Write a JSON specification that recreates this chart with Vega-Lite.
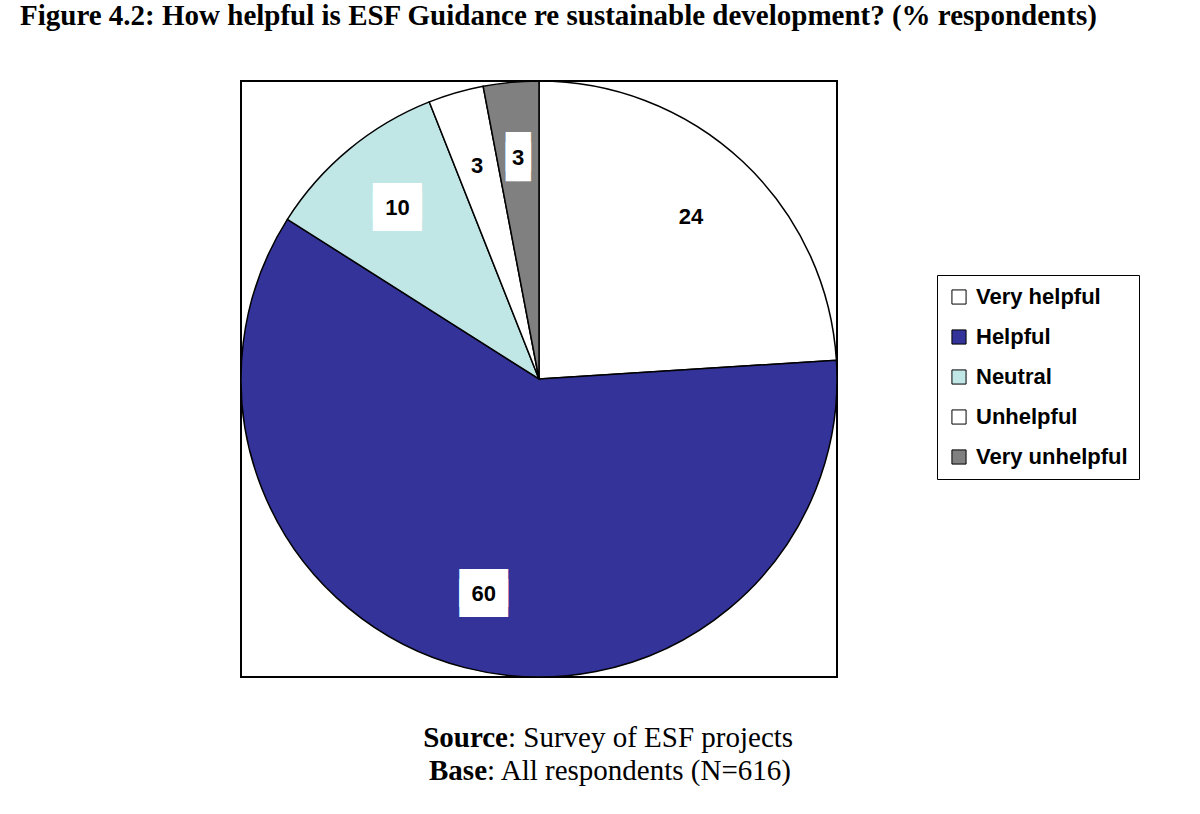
{
  "$schema": "https://vega.github.io/schema/vega-lite/v6.json",
  "padding": {"left": 20, "top": 2, "right": 0, "bottom": 0},
  "background": "white",
  "title": {
    "text": "Figure 4.2: How helpful is ESF Guidance re sustainable development? (% respondents)",
    "anchor": "start",
    "frame": "group",
    "dx": -221,
    "font": "Liberation Serif",
    "fontSize": 29,
    "fontWeight": "bold",
    "color": "black",
    "offset": 47
  },
  "vconcat": [
    {
      "title": {"text": "Base", "orient": "bottom", "anchor": "start", "align": "right", "frame": "group", "dx": 246, "offset": -29, "font": "Liberation Serif", "fontSize": 29, "fontWeight": "bold", "color": "black"},
      "vconcat": [
        {
          "title": {"text": ": All respondents (N=616)", "orient": "bottom", "anchor": "start", "align": "left", "frame": "group", "dx": 246, "offset": 4, "font": "Liberation Serif", "fontSize": 29, "fontWeight": "normal", "color": "black"},
          "vconcat": [
            {
              "title": {"text": "Source", "orient": "bottom", "anchor": "start", "align": "right", "frame": "group", "dx": 267, "offset": -29, "font": "Liberation Serif", "fontSize": 29, "fontWeight": "bold", "color": "black"},
              "vconcat": [
                {
                  "width": 596,
                  "height": 596,
                  "title": {"text": ": Survey of ESF projects", "orient": "bottom", "anchor": "start", "align": "left", "frame": "group", "dx": 267, "offset": 44, "font": "Liberation Serif", "fontSize": 29, "fontWeight": "normal", "color": "black"},
                  "data": {
                    "values": [
                      {"k": 1, "category": "Very helpful", "v": 24},
                      {"k": 2, "category": "Helpful", "v": 60},
                      {"k": 3, "category": "Neutral", "v": 10},
                      {"k": 4, "category": "Unhelpful", "v": 3},
                      {"k": 5, "category": "Very unhelpful", "v": 3}
                    ]
                  },
                  "layer": [
                    {
                      "data": {"values": [{"frame": "plot"}]},
                      "mark": {"type": "rect", "fill": "white", "stroke": "black", "strokeWidth": 2},
                      "encoding": {}
                    },
                    {
                      "mark": {"type": "arc", "outerRadius": 298, "stroke": "black", "strokeWidth": 1.5},
                      "encoding": {
                        "theta": {"field": "v", "type": "quantitative", "stack": true},
                        "order": {"field": "k", "type": "quantitative"},
                        "color": {
                          "field": "category",
                          "type": "nominal",
                          "scale": {
                            "domain": ["Very helpful", "Helpful", "Neutral", "Unhelpful", "Very unhelpful"],
                            "range": ["#ffffff", "#333399", "#c0e6e6", "#ffffff", "#808080"]
                          },
                          "legend": {
                            "orient": "none",
                            "legendX": 696,
                            "legendY": 194,
                            "title": null,
                            "strokeColor": "black",
                            "fillColor": "white",
                            "padding": 11,
                            "labelFont": "Liberation Sans",
                            "labelFontWeight": "bold",
                            "labelFontSize": 22,
                            "labelColor": "black",
                            "labelLimit": 300,
                            "labelOffset": 6,
                            "symbolType": "square",
                            "symbolSize": 200,
                            "symbolStrokeColor": "black",
                            "symbolStrokeWidth": 1,
                            "rowPadding": 18
                          }
                        }
                      }
                    },
                    {
                      "mark": {"type": "text", "radius": 222, "font": "DejaVu Sans", "color": "white", "baseline": "middle", "align": "center", "dy": -5},
                      "encoding": {
                        "theta": {"field": "v", "type": "quantitative", "stack": true},
                        "order": {"field": "k", "type": "quantitative"},
                        "detail": {"field": "category", "type": "nominal"},
                        "size": {"condition": {"test": "datum.v >= 10", "value": 32}, "value": 33},
                        "text": {"condition": [{"test": "datum.category == 'Very helpful' || datum.category == 'Unhelpful'", "value": ""}, {"test": "datum.v >= 10", "value": "▐█▌"}], "value": "▐▌"}
                      }
                    },
                    {
                      "mark": {"type": "text", "radius": 222, "font": "DejaVu Sans", "color": "white", "baseline": "middle", "align": "center", "dy": 5},
                      "encoding": {
                        "theta": {"field": "v", "type": "quantitative", "stack": true},
                        "order": {"field": "k", "type": "quantitative"},
                        "detail": {"field": "category", "type": "nominal"},
                        "size": {"condition": {"test": "datum.v >= 10", "value": 32}, "value": 33},
                        "text": {"condition": [{"test": "datum.category == 'Very helpful' || datum.category == 'Unhelpful'", "value": ""}, {"test": "datum.v >= 10", "value": "▐█▌"}], "value": "▐▌"}
                      }
                    },
                    {
                      "mark": {"type": "text", "radius": 222, "font": "Liberation Sans", "fontWeight": "bold", "fontSize": 22, "color": "black", "baseline": "middle", "align": "center"},
                      "encoding": {
                        "theta": {"field": "v", "type": "quantitative", "stack": true},
                        "order": {"field": "k", "type": "quantitative"},
                        "detail": {"field": "category", "type": "nominal"},
                        "text": {"field": "v", "type": "quantitative"}
                      }
                    }
                  ]
                }
              ]
            }
          ]
        }
      ]
    }
  ],
  "config": {"view": {"stroke": null}}
}
